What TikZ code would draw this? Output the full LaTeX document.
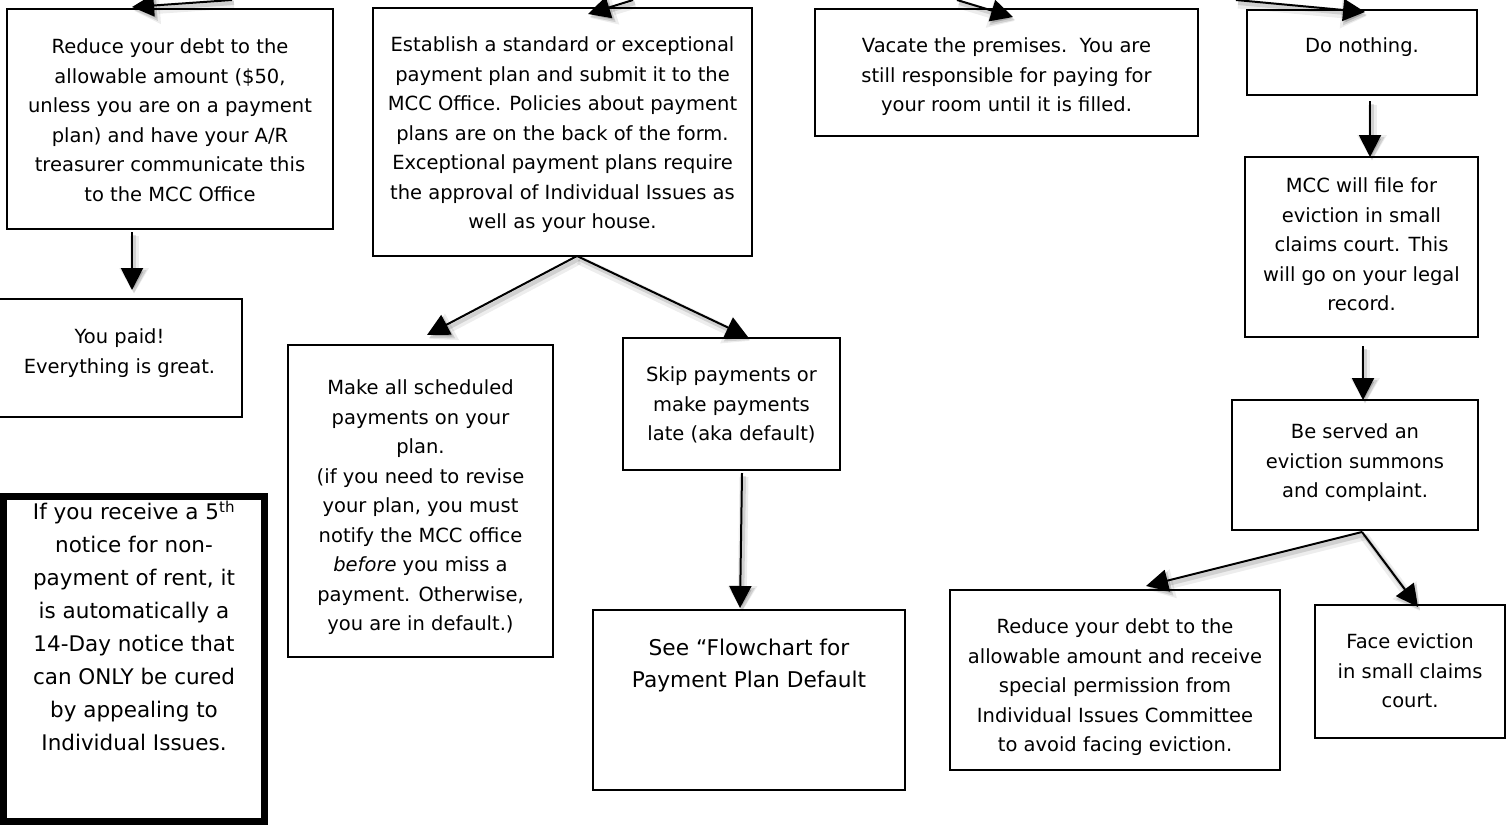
\documentclass[tikz,border=0pt]{standalone}
\usepackage{fontspec}
\setmainfont{DejaVu Sans}
\usetikzlibrary{arrows.meta}

% box content: width, height, top padding, text
\newcommand\boxtxt[4]{\parbox[c][#2pt][t]{#1pt}{\centering\vspace*{#3pt}\strut#4}}

\tikzset{
  box/.style={draw, line width=2.5pt, inner sep=0pt, outer sep=0pt, anchor=north west,
    font=\fontsize{19.5}{29.5}\selectfont},
  bigtext/.style={font=\fontsize{21.7}{32}\selectfont},
  notebox/.style={box, line width=7pt, font=\fontsize{21.5}{33}\selectfont},
  arr/.style={line width=2pt, -{Triangle[length=22pt,width=22pt]},
    preaction={draw=black, opacity=0.07, line width=9pt, -{Triangle[length=26pt,width=28pt]},
      transform canvas={shift={(2pt,-4pt)}}},
    preaction={draw=black, opacity=0.12, line width=4pt, -{Triangle[length=23pt,width=24pt]},
      transform canvas={shift={(2pt,-3pt)}}}}
}

\begin{document}
\begin{tikzpicture}[x=1pt, y=-1pt]
\useasboundingbox[fill=white] (0,0) rectangle (1507,825);

% first row of choices
\node[box] (A) at (7,9) {\boxtxt{326}{220}{24}{Reduce your debt to the\\allowable amount (\$50,\\unless you are on a payment\\plan) and have your A/R\\treasurer communicate this\\to the MCC Office}};
\node[box] (B) at (373,8) {\boxtxt{379}{248}{23}{Establish a standard or exceptional\\payment plan and submit it to the\\MCC Office. Policies about payment\\plans are on the back of the form.\\Exceptional payment plans require\\the approval of Individual Issues as\\well as your house.}};
\node[box] (C) at (815,9) {\boxtxt{383}{127}{23}{Vacate the premises.\ \ You are\\still responsible for paying for\\your room until it is filled.}};
\node[box] (D) at (1247,10) {\boxtxt{230}{85}{22}{Do nothing.}};

% outcomes
\node[box] (E) at (-3,299) {\boxtxt{245}{118}{24}{You paid!\\Everything is great.}};
\node[box] (F) at (288,345) {\boxtxt{265}{312}{29}{Make all scheduled\\payments on your\\plan.\\(if you need to revise\\your plan, you must\\notify the MCC office\\\textit{before} you miss a\\payment. Otherwise,\\you are in default.)}};
\node[box] (G) at (623,338) {\boxtxt{217}{132}{23}{Skip payments or\\make payments\\late (aka default)}};
\node[box, bigtext] (H) at (593,610) {\boxtxt{312}{180}{23}{See “Flowchart for\\Payment Plan Default}};

% eviction path
\node[box] (I) at (1245,157) {\boxtxt{233}{180}{15}{MCC will file for\\eviction in small\\claims court. This\\will go on your legal\\record.}};
\node[box] (J) at (1232,400) {\boxtxt{246}{130}{18}{Be served an\\eviction summons\\and complaint.}};
\node[box] (K) at (950,590) {\boxtxt{330}{180}{23}{Reduce your debt to the\\allowable amount and receive\\special permission from\\Individual Issues Committee\\to avoid facing eviction.}};
\node[box] (L) at (1315,605) {\boxtxt{190}{133}{23}{Face eviction\\in small claims\\court.}};

% note
\node[notebox] (M) at (3.5,496.5) {\boxtxt{261}{325}{0}{If you receive a 5\textsuperscript{th}\\notice for non-\\payment of rent, it\\is automatically a\\14-Day notice that\\can ONLY be cured\\by appealing to\\Individual Issues.}};

% incoming arrows from above
\coordinate (topA) at (232,0);
\coordinate (topB) at (633,0);
\coordinate (topC) at (957,0);
\coordinate (topD) at (1236,0);
\draw[arr] (topA) -- ([xshift=125pt,yshift=2pt]A.north west);
\draw[arr] (topB) -- ([xshift=215pt,yshift=-6pt]B.north west);
\draw[arr] (topC) -- ([xshift=198pt,yshift=-8pt]C.north west);
\draw[arr] (topD) -- ([xshift=118pt,yshift=-2pt]D.north west);

% connectors between boxes
\draw[arr] ([xshift=125pt,yshift=-3pt]A.south west) -- ([xshift=135pt,yshift=9pt]E.north west);
\draw[arr] ([xshift=204pt]B.south west) -- ([xshift=139pt,yshift=10pt]F.north west);
\draw[arr] ([xshift=204pt]B.south west) -- ([xshift=125pt,yshift=1pt]G.north west);
\draw[arr] ([xshift=119pt,yshift=-3pt]G.south west) -- ([xshift=147pt,yshift=2pt]H.north west);
\draw[arr] ([xshift=123pt,yshift=-6pt]D.south west) -- ([xshift=125pt]I.north west);
\draw[arr] ([xshift=118pt,yshift=-9pt]I.south west) -- ([xshift=131pt]J.north west);
\draw[arr] ([xshift=130pt,yshift=-2pt]J.south west) -- ([xshift=196pt,yshift=4pt]K.north west);
\draw[arr] ([xshift=130pt,yshift=-2pt]J.south west) -- ([xshift=103pt,yshift=-2pt]L.north west);
\end{tikzpicture}
\end{document}
